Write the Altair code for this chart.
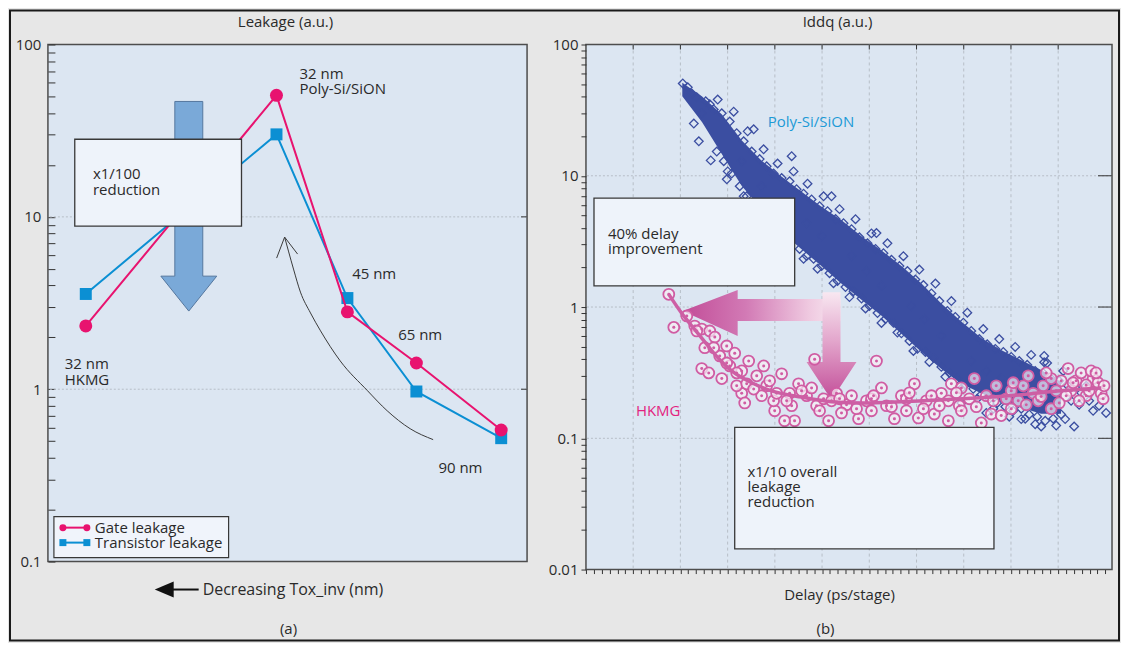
import altair as alt
import pandas as pd

FONT = "Open Sans"
TXT = "#2a2a2a"
PINK = "#e8136f"
BLUE = "#0b8fd3"
PAGE_BG = "#e7e7e7"
PANEL_BG = "#dce6f2"
BOX_FILL = "#eef3fa"
BOX_STROKE = "#383838"
POLY_COL = "#3b4ea1"
HK_COL = "#d05ca3"
FS = 15

# ---------------- data: panel (a) ----------------
node_labels = ["32 nm HKMG", "32 nm Poly-Si/SiON", "45 nm", "65 nm", "90 nm"]
node_pos = [7.9, 47.7, 62.5, 76.9, 94.6]
gate_leakage = [2.33, 50.7, 2.81, 1.42, 0.58]
transistor_leakage = [3.57, 30.1, 3.38, 0.97, 0.52]

left_ticks = [0.1, 0.2, 0.3, 0.4, 0.5, 0.6, 0.7, 0.8, 0.9,
              1, 2, 3, 4, 5, 6, 7, 8, 9,
              10, 20, 30, 40, 50, 60, 70, 80, 90, 100]
left_major = [0.1, 1, 10, 100]
left_grid = [1, 10]

curve_x = [49.4, 50.2, 51.25, 52.7, 54.8, 56.9, 61.0, 66.7, 70.8, 75.6, 80.4]
curve_y = [7.63, 6.33, 4.98, 3.66, 2.77, 2.18, 1.46, 0.98, 0.75, 0.59, 0.51]

# ---------------- data: panel (b) ----------------
poly_delay = [10.25, 10.78, 11.21, 11.73, 11.42, 11.95, 13.11, 13.21, 14.91, 12.26, 12.68,
              13.53, 14.38, 15.22, 15.96, 16.70, 17.55, 18.39, 19.13, 19.87, 20.72,
              21.56, 22.30, 23.04, 23.89, 24.74, 25.58, 26.43, 27.27, 28.12, 28.96,
              29.81, 30.66, 31.50, 32.35, 33.19, 34.04, 34.88, 35.73, 36.58, 37.42,
              38.27, 39.11, 39.96, 40.80, 41.65, 42.49, 43.34, 44.19, 45.03, 45.88,
              46.72, 47.57, 48.41, 49.26, 50.11, 50.95, 51.80,
              13.85, 14.59, 15.43, 16.28, 17.02, 17.76, 18.60, 19.45, 20.19, 20.93,
              21.78, 22.62, 23.36, 24.10, 24.95, 25.79, 26.64, 27.48, 28.33, 29.18,
              30.02, 30.87, 31.71, 32.56, 33.40, 34.25, 35.10, 35.94, 36.79, 37.63,
              38.48, 39.32, 40.17, 41.01, 41.86, 42.71, 43.55, 44.40, 45.24, 46.09,
              46.93, 47.78, 48.63, 49.47, 50.32,
              17.76, 21.78, 26.00, 30.76, 48.52, 48.52, 46.09, 47.57, 49.79, 51.69,
              50.74, 54.33, 55.07, 52.43, 53.28, 53.70, 51.37, 52.96, 52.22, 42.39, 39.75,
              18.60, 21.78, 24.95, 28.12, 31.29, 34.46, 37.63, 40.80, 43.97, 47.15,
              49.79, 16.49, 23.36, 29.70, 35.84, 42.39, 45.56,
              13.95, 15.64, 17.12, 18.81, 20.29, 21.98, 23.46, 25.16, 26.85, 28.54,
              30.23, 31.92, 33.61, 35.30, 37.00, 38.69, 40.38, 42.07, 43.76, 45.45,
              47.14, 48.83, 50.53,
              15.01, 16.70, 18.18, 19.87, 21.35, 23.04, 24.52, 26.21, 27.90, 29.60,
              31.29, 32.98, 34.67, 36.36, 38.05, 39.74, 41.43, 43.13, 44.82, 46.51, 48.20]
poly_iddq = [50.5, 47.2, 42.4, 39.6, 25.0, 18.3, 35.0, 13.1, 9.4, 29.9, 36.9,
             32.0, 29.9, 25.9, 21.1, 18.3, 15.3, 13.4, 11.8, 10.4, 9.6,
             9.08, 7.9, 7.3, 6.6, 5.86, 5.37, 4.68, 4.35, 3.92, 3.40,
             3.06, 2.77, 2.57, 2.29, 2.05, 1.88, 1.62, 1.47, 1.27, 1.11,
             0.933, 0.84, 0.76, 0.657, 0.57, 0.52, 0.48, 0.455, 0.417, 0.388,
             0.363, 0.326, 0.315, 0.285, 0.274, 0.255, 0.245,
             15.3, 12.9, 10.4, 8.32, 6.98, 6.40, 5.37, 4.51, 3.78, 3.40,
             3.18, 2.77, 2.45, 2.33, 2.05, 1.81, 1.58, 1.42, 1.32, 1.16,
             1.02, 0.90, 0.81, 0.76, 0.63, 0.551, 0.48, 0.455, 0.41, 0.35,
             0.315, 0.285, 0.255, 0.238, 0.215, 0.200, 0.186, 0.174, 0.162, 0.168,
             0.152, 0.146, 0.136, 0.141, 0.152,
             22.6, 14.1, 6.98, 3.66, 0.424, 0.38, 0.14, 0.128, 0.125, 0.123,
             0.14, 0.177, 0.156, 0.222, 0.193, 0.162, 0.193, 0.251, 0.180, 0.156, 0.186,
             8.32, 5.37, 3.47, 2.45, 1.45, 1.02, 0.602, 0.388, 0.285, 0.222,
             0.200, 12.9, 4.35, 1.88, 0.81, 0.326, 0.251,
             38.1, 30.8, 21.8, 15.9, 12.4, 10.8, 8.7, 6.98, 5.57, 4.67,
             3.64, 3.06, 2.44, 1.93, 1.51, 1.11, 0.905, 0.68, 0.57, 0.497,
             0.432, 0.375, 0.326,
             10.8, 6.99, 5.38, 3.79, 2.86, 2.33, 1.96, 1.52, 1.19, 0.975,
             0.756, 0.639, 0.463, 0.382, 0.294, 0.239, 0.200, 0.168, 0.146, 0.141, 0.123]

band_delay = [10.2, 12.3, 14.4, 16.5, 18.6, 20.7, 22.8, 24.9, 27.1, 29.2,
              31.3, 33.4, 35.5, 37.6, 39.7, 41.9, 44.0, 46.1, 48.2, 50.3]
band_upper = [51.2, 40.1, 29.3, 18.6, 13.0, 9.87, 7.59, 5.84, 4.57, 3.45,
              2.70, 2.05, 1.52, 1.07, 0.780, 0.579, 0.469, 0.394, 0.331, 0.268]
band_lower = [40.4, 25.6, 14.6, 8.35, 5.58, 3.73, 2.77, 2.06, 1.50, 1.13,
              0.857, 0.626, 0.457, 0.339, 0.261, 0.219, 0.190, 0.171, 0.154, 0.154]

hkmg_delay = [8.77, 9.30, 10.68, 11.52, 12.26, 13.11, 13.64, 12.58, 14.90, 15.75,
              12.26, 13.00, 14.38, 14.16, 15.22, 16.49, 17.23, 18.82, 18.08, 19.13,
              20.72, 22.51, 24.21, 16.49, 16.81, 19.98, 22.09, 21.03, 19.87, 21.56,
              23.36, 24.42, 25.69, 25.16, 26.53, 27.59, 28.86, 28.12, 29.70, 30.76,
              31.29, 31.82, 32.66, 33.40, 33.93, 34.78, 35.20, 36.04, 36.89, 37.63,
              38.37, 38.69, 38.37, 39.53, 39.75, 40.59, 41.12, 41.86, 42.39, 42.92,
              43.44, 43.97, 44.50, 45.03, 45.77, 46.30, 46.83, 47.35, 47.88, 48.41,
              49.26, 49.79, 50.32, 51.05, 51.37, 51.90, 52.43, 52.96, 53.28, 53.70,
              54.22, 54.55, 54.86, 49.26, 50.85, 52.22, 45.03, 39.75, 36.58, 30.23,
              27.06, 23.89, 18.60, 21.78, 15.96, 53.49, 48.73, 17.02, 20.19, 26.00,
              30.23, 33.93,
              17.76, 19.45, 21.25, 22.83, 24.74, 26.85, 28.65, 30.45, 32.35, 34.25,
              35.73, 37.42, 39.22, 41.33, 43.13, 45.24, 46.62, 48.20, 50.11, 51.58,
              52.96, 54.01, 54.76, 14.90, 13.53, 11.73, 15.96]
hkmg_iddq = [1.25, 0.70, 0.855, 0.717, 0.68, 0.657, 0.59, 0.49, 0.505, 0.445,
             0.34, 0.315, 0.285, 0.424, 0.356, 0.326, 0.388, 0.356, 0.299, 0.251,
             0.31, 0.26, 0.40, 0.22, 0.186, 0.162, 0.136, 0.136, 0.193, 0.22,
             0.211, 0.177, 0.136, 0.20, 0.22, 0.18, 0.141, 0.211, 0.193, 0.388,
             0.242, 0.177, 0.141, 0.211, 0.162, 0.26, 0.143, 0.193, 0.153, 0.22,
             0.193, 0.26, 0.136, 0.177, 0.242, 0.200, 0.285, 0.131, 0.211, 0.153,
             0.251, 0.149, 0.200, 0.230, 0.193, 0.251, 0.299, 0.22, 0.193, 0.251,
             0.168, 0.230, 0.274, 0.34, 0.230, 0.274, 0.315, 0.211, 0.230, 0.285,
             0.265, 0.22, 0.251, 0.285, 0.211, 0.193, 0.168, 0.162, 0.211, 0.162,
             0.156, 0.242, 0.211, 0.177, 0.251, 0.326, 0.315, 0.26, 0.22, 0.193,
             0.20, 0.20,
             0.237, 0.274, 0.193, 0.230, 0.162, 0.200, 0.168, 0.211, 0.174, 0.222,
             0.168, 0.177, 0.222, 0.174, 0.193, 0.265, 0.180, 0.208, 0.186, 0.265,
             0.255, 0.315, 0.200, 0.375, 0.49, 0.657, 0.315]

trend_delay = [8.77, 10.15, 11.21, 12.26, 13.85, 15.43, 17.55, 19.66, 22.83, 26.00,
               29.18, 33.40, 37.63, 41.86, 46.09, 50.32, 54.55]
trend_iddq = [1.25, 0.895, 0.717, 0.58, 0.42, 0.326, 0.265, 0.230, 0.206, 0.190,
              0.186, 0.190, 0.197, 0.204, 0.215, 0.230, 0.242]

right_ticks = [0.01, 0.02, 0.03, 0.04, 0.05, 0.06, 0.07, 0.08, 0.09,
               0.1, 0.2, 0.3, 0.4, 0.5, 0.6, 0.7, 0.8, 0.9,
               1, 2, 3, 4, 5, 6, 7, 8, 9,
               10, 20, 30, 40, 50, 60, 70, 80, 90, 100]
right_major = [0.01, 0.1, 1, 10, 100]
right_hgrid = [0.1, 1, 10]
right_vgrid = [5, 10, 15, 20, 25, 30, 35, 40, 45, 50]
delay_ticks = [round(i * 5 / 6, 3) for i in range(0, 67)]

# ---------------- helpers ----------------
one = pd.DataFrame({"k": [0]})
W_A, H_A = 480, 518
W_B, H_B = 527, 526

xa = alt.Scale(domain=[0, 100], nice=False, zero=False)
ya = alt.Scale(type="log", domain=[0.1, 100], nice=False)
xb = alt.Scale(domain=[0, 55.7], nice=False, zero=False)
yb = alt.Scale(type="log", domain=[0.01, 100], nice=False)

ya_axis = alt.Axis(
    values=left_ticks, format="~g",
    labelExpr=f"indexof({left_major}, datum.value) >= 0 ? datum.label : ''",
    tickSize=7, offset=-7, labelPadding=7, domain=False, grid=False, title=None,
    labelOverlap=False, labelFont=FONT, labelFontSize=FS, labelColor=TXT,
    tickColor="#333333", tickWidth=1)

yb_axis = alt.Axis(
    values=right_ticks, format="~g",
    labelExpr=f"indexof({right_major}, datum.value) >= 0 ? datum.label : ''",
    tickSize=5, labelPadding=3, domain=False, grid=False, title=None,
    labelOverlap=False, labelFont=FONT, labelFontSize=FS, labelColor=TXT,
    tickColor="#333333", tickWidth=1)

xb_axis = alt.Axis(values=delay_ticks, labels=False, tickSize=4, domain=False,
                   grid=False, title=None, tickColor="#333333", tickWidth=1)


def XA(f):
    return alt.X(f, type="quantitative", scale=xa, axis=None)


def YA(f):
    return alt.Y(f, type="quantitative", scale=ya, axis=ya_axis)


def XB(f):
    return alt.X(f, type="quantitative", scale=xb, axis=xb_axis)


def YB(f):
    return alt.Y(f, type="quantitative", scale=yb, axis=yb_axis)


def px_text(txt, px, py, size=FS, color=TXT, align="center"):
    return alt.Chart(pd.DataFrame({"t": [txt]})).mark_text(
        font=FONT, fontSize=size, color=color, align=align, baseline="middle"
    ).encode(x=alt.value(px), y=alt.value(py), text="t:N")


def data_text(df, X, Y, color=TXT, size=FS):
    return alt.Chart(df).mark_text(
        font=FONT, fontSize=size, color=color, align="left", baseline="middle"
    ).encode(x=X("x"), y=Y("y"), text="t:N")


ARROW_DOWN = "M0,0 L-28,-35 L-14,-35 L-14,-210 L14,-210 L14,-35 L28,-35 Z"
ARROW_LEFT = "M0,0 L55,-21 L55,-12 L158,-12 L158,10 L55,10 L55,25 Z"
ARROW_DOWN_PINK = "M0,0 L-25,-38 L-9,-38 L-9,-108 L9,-108 L9,-38 L25,-38 Z"
CURVE_HEAD = "M-8,21 L0,0 L13,17"
SMALL_HEAD = "M0,0 L19,-8 L19,8 Z"

# ---------------- panel (a) ----------------
df_a = pd.DataFrame({"node": node_labels, "pos": node_pos,
                     "gate": gate_leakage, "trans": transistor_leakage})

# outer figure border (kept inside the browser window so nothing is rescaled)
frame = alt.Chart(one).mark_rect(fillOpacity=0, stroke="#1a1a1a", strokeWidth=2).encode(
    x=alt.value(-38), x2=alt.value(1073), y=alt.value(-34), y2=alt.value(597))

grid_a = alt.Chart(pd.DataFrame({"v": left_grid})).mark_rule(
    color="#b7bec7", strokeDash=[2, 2], strokeWidth=1).encode(y=YA("v"))
rticks_a = alt.Chart(pd.DataFrame({"v": left_grid})).mark_rule(
    color="#333333", strokeWidth=1).encode(y=YA("v"), x=alt.value(W_A - 6), x2=alt.value(W_A))

big_arrow = alt.Chart(pd.DataFrame({"x": [29.4], "y": [2.84]})).mark_point(
    shape=ARROW_DOWN, size=4, filled=True, fill="#7aa9d8", stroke="#55779f",
    strokeWidth=1, opacity=1).encode(x=XA("x"), y=YA("y"))

blue_line = alt.Chart(df_a).mark_line(color=BLUE, strokeWidth=2).encode(x=XA("pos"), y=YA("trans"))
blue_pts = alt.Chart(df_a).mark_point(shape="square", filled=True, size=144, color=BLUE,
                                      opacity=1).encode(x=XA("pos"), y=YA("trans"))
pink_line = alt.Chart(df_a).mark_line(color=PINK, strokeWidth=2).encode(x=XA("pos"), y=YA("gate"))
pink_pts = alt.Chart(df_a).mark_point(shape="circle", filled=True, size=169, color=PINK,
                                      opacity=1).encode(x=XA("pos"), y=YA("gate"))

df_curve = pd.DataFrame({"x": curve_x, "y": curve_y})
curve = alt.Chart(df_curve).mark_line(color="#3a3a3a", strokeWidth=1, interpolate="monotone").encode(
    x=XA("x"), y=YA("y"))
curve_head = alt.Chart(pd.DataFrame({"x": [curve_x[0]], "y": [curve_y[0]]})).mark_point(
    shape=CURVE_HEAD, size=4, filled=False, color="#3a3a3a", strokeWidth=1, opacity=1).encode(
    x=XA("x"), y=YA("y"))

box_a = alt.Chart(pd.DataFrame({"x": [5.6], "x2": [40.4], "y": [28.2], "y2": [8.84]})).mark_rect(
    fill=BOX_FILL, stroke=BOX_STROKE, strokeWidth=1.3).encode(x=XA("x"), x2="x2", y=YA("y"), y2="y2")
box_a_text = data_text(pd.DataFrame({"x": [9.4, 9.4], "y": [17.7, 14.3], "t": ["x1/100", "reduction"]}), XA, YA)

ann_a = data_text(pd.DataFrame({
    "x": [52.5, 52.5, 3.5, 3.5, 63.5, 73.1, 81.5],
    "y": [67.1, 54.9, 1.40, 1.13, 4.66, 2.07, 0.351],
    "t": ["32 nm", "Poly-Si/SiON", "32 nm", "HKMG", "45 nm", "65 nm", "90 nm"]}), XA, YA)

leg_box = alt.Chart(one).mark_rect(fill="#f0f4fb", stroke=BOX_STROKE, strokeWidth=1.2).encode(
    x=alt.value(6), x2=alt.value(181), y=alt.value(473), y2=alt.value(514))
leg_l1 = alt.Chart(one).mark_rule(color=PINK, strokeWidth=2).encode(
    x=alt.value(15), x2=alt.value(39), y=alt.value(484))
leg_l2 = alt.Chart(one).mark_rule(color=BLUE, strokeWidth=2).encode(
    x=alt.value(15), x2=alt.value(39), y=alt.value(499))
leg_pts = []
for px in (15, 39):
    leg_pts.append(alt.Chart(one).mark_point(shape="circle", filled=True, size=49, color=PINK, opacity=1)
                   .encode(x=alt.value(px), y=alt.value(484)))
    leg_pts.append(alt.Chart(one).mark_point(shape="square", filled=True, size=49, color=BLUE, opacity=1)
                   .encode(x=alt.value(px), y=alt.value(499)))
leg_t1 = px_text("Gate leakage", 47, 484, align="left")
leg_t2 = px_text("Transistor leakage", 47, 499, align="left")

tox_head = alt.Chart(one).mark_point(shape=SMALL_HEAD, size=4, filled=True, color="#111111",
                                     opacity=1).encode(x=alt.value(107), y=alt.value(546))
tox_line = alt.Chart(one).mark_rule(color="#111111", strokeWidth=2).encode(
    x=alt.value(124), x2=alt.value(151), y=alt.value(546))
tox_text = px_text("Decreasing Tox_inv (nm)", 155, 546, size=16, align="left")
title_a = px_text("Leakage (a.u.)", 238, -23)
cap_a = px_text("(a)", 241, 586)

left = alt.layer(
    frame, grid_a, rticks_a, big_arrow, blue_line, blue_pts, pink_line, pink_pts,
    curve, curve_head, box_a, box_a_text, ann_a,
    leg_box, leg_l1, leg_l2, *leg_pts, leg_t1, leg_t2,
    tox_head, tox_line, tox_text, title_a, cap_a
).properties(width=W_A, height=H_A)

# ---------------- panel (b) ----------------
vgrid = alt.Chart(pd.DataFrame({"d": right_vgrid})).mark_rule(
    color="#b7bec7", strokeDash=[3, 3], strokeWidth=1).encode(x=XB("d"))
hgrid = alt.Chart(pd.DataFrame({"v": right_hgrid})).mark_rule(
    color="#b7bec7", strokeDash=[2, 2], strokeWidth=1).encode(y=YB("v"))
top_ticks = alt.Chart(pd.DataFrame({"d": right_vgrid})).mark_rule(
    color="#333333", strokeWidth=1).encode(x=XB("d"), y=alt.value(0), y2=alt.value(5))
r_ticks = alt.Chart(pd.DataFrame({"v": right_hgrid})).mark_rule(
    color="#333333", strokeWidth=1).encode(y=YB("v"), x=alt.value(W_B - 14), x2=alt.value(W_B))

grad_h = alt.LinearGradient(
    gradient="linear", x1=0, y1=0, x2=1, y2=0,
    stops=[alt.GradientStop(color="#c24d98", offset=0),
           alt.GradientStop(color="#d27ab5", offset=0.4),
           alt.GradientStop(color="#efc9e0", offset=0.8),
           alt.GradientStop(color="#f8e8f1", offset=1)])
grad_v = alt.LinearGradient(
    gradient="linear", x1=0, y1=0, x2=0, y2=1,
    stops=[alt.GradientStop(color="#f8e8f1", offset=0),
           alt.GradientStop(color="#e3a6cc", offset=0.45),
           alt.GradientStop(color="#c24d98", offset=1)])
arrow_h = alt.Chart(pd.DataFrame({"d": [10.25], "v": [0.933]})).mark_point(
    shape=ARROW_LEFT, size=4, filled=True, fill=grad_h, strokeWidth=0, opacity=1).encode(
    x=XB("d"), y=YB("v"))
arrow_v = alt.Chart(pd.DataFrame({"d": [26.0], "v": [0.196]})).mark_point(
    shape=ARROW_DOWN_PINK, size=4, filled=True, fill=grad_v, strokeWidth=0, opacity=1).encode(
    x=XB("d"), y=YB("v"))

df_band = pd.DataFrame({"d": band_delay, "lo": band_lower, "hi": band_upper})
band = alt.Chart(df_band).mark_area(color=POLY_COL, opacity=1).encode(
    x=XB("d"), y=YB("lo"), y2="hi")
df_poly = pd.DataFrame({"d": poly_delay, "v": poly_iddq})
poly_pts = alt.Chart(df_poly).mark_point(
    shape="diamond", filled=False, color=POLY_COL,
    strokeWidth=1.3, size=75, opacity=1).encode(x=XB("d"), y=YB("v"))
df_hk = pd.DataFrame({"d": hkmg_delay, "v": hkmg_iddq})
hk_pts = alt.Chart(df_hk).mark_point(
    shape="circle", filled=True, fill="#f7ecf4", fillOpacity=0.7, stroke=HK_COL,
    strokeWidth=1.8, size=120, opacity=1).encode(x=XB("d"), y=YB("v"))
hk_dots = alt.Chart(df_hk).mark_point(shape="circle", filled=True, color=HK_COL, size=9,
                                      opacity=1).encode(x=XB("d"), y=YB("v"))
df_trend = pd.DataFrame({"d": trend_delay, "v": trend_iddq})
trend = alt.Chart(df_trend).mark_line(color="#cd5fa4", strokeWidth=3.5, interpolate="monotone").encode(
    x=XB("d"), y=YB("v"))

boxes_b = alt.Chart(pd.DataFrame({"x": [0.85, 15.75], "x2": [22.1, 43.2],
                                  "y": [6.75, 0.121], "y2": [1.45, 0.01436]})).mark_rect(
    fill=BOX_FILL, stroke=BOX_STROKE, strokeWidth=1.3).encode(x=XB("x"), x2="x2", y=YB("y"), y2="y2")
box_b_text = data_text(pd.DataFrame({
    "x": [2.33, 2.33, 17.1, 17.1, 17.1],
    "y": [3.59, 2.76, 0.0550, 0.0423, 0.0325],
    "t": ["40% delay", "improvement", "x1/10 overall", "leakage", "reduction"]}), XB, YB)
lab_poly = data_text(pd.DataFrame({"x": [19.24], "y": [25.5], "t": ["Poly-Si/SiON"]}), XB, YB,
                     color="#1d9ad6")
lab_hk = data_text(pd.DataFrame({"x": [5.29], "y": [0.162], "t": ["HKMG"]}), XB, YB, color="#e3237f")

title_b = px_text("Iddq (a.u.)", 252, -23)
xtitle_b = px_text("Delay (ps/stage)", 254, 551)
cap_b = px_text("(b)", 240, 586)

right = alt.layer(
    vgrid, hgrid, top_ticks, r_ticks, arrow_h, arrow_v, band, poly_pts, hk_pts, hk_dots, trend,
    boxes_b, box_b_text, lab_poly, lab_hk, title_b, xtitle_b, cap_b
).properties(width=W_B, height=H_B)

chart = alt.hconcat(left, right, spacing=59, bounds="flush").properties(
    padding=0, background=PAGE_BG
).configure_view(fill=PANEL_BG, stroke="#4d4d4d", strokeWidth=1.5)

chart.save("out.html", embed_options={"renderer": "svg", "actions": False})
